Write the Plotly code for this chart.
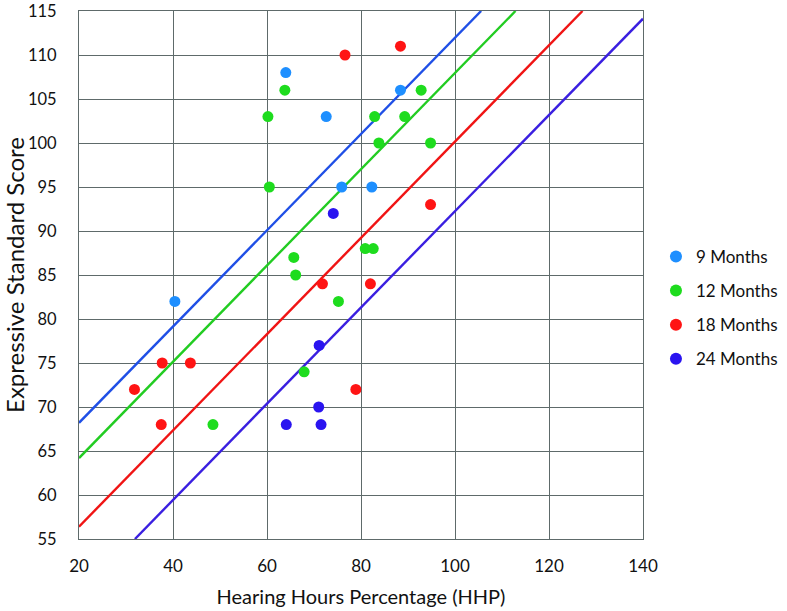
import plotly.graph_objects as go

# ---- data ----
groups = ["9 Months", "12 Months", "18 Months", "24 Months"]
point_colors = ["#1E8FFF", "#1EDC1E", "#FF1414", "#2A14F0"]
line_colors = ["#1F4FE6", "#22CC22", "#F01414", "#3A1FE0"]

hhp_9 = [64.0, 72.6, 75.9, 82.3, 88.4, 40.4]
ess_9 = [108, 103, 95, 95, 106, 82]

hhp_12 = [63.8, 60.2, 82.9, 83.8, 60.5, 80.9, 82.6, 65.7, 66.1, 92.8, 89.3, 94.8, 75.2, 67.9, 48.5]
ess_12 = [106, 103, 103, 100, 95, 88, 88, 87, 85, 106, 103, 100, 82, 74, 68]

hhp_18 = [76.6, 88.4, 94.8, 71.8, 82.0, 37.7, 43.7, 31.8, 78.9, 37.5]
ess_18 = [110, 111, 93, 84, 84, 75, 75, 72, 72, 68]

hhp_24 = [74.1, 71.1, 71.0, 64.1, 71.5]
ess_24 = [92, 77, 70, 68, 68]

# fitted regression lines (common slope, group intercepts)
fit_slope = 0.547
fit_intercepts = [57.26, 53.26, 45.46, 37.55]

x_ticks = [20, 40, 60, 80, 100, 120, 140]
y_ticks = [55, 60, 65, 70, 75, 80, 85, 90, 95, 100, 105, 110, 115]

x_range = [20, 140]
y_range = [55, 115]

xs = [hhp_9, hhp_12, hhp_18, hhp_24]
ys = [ess_9, ess_12, ess_18, ess_24]

fig = go.Figure()

# lines (clipped to plot area)
for i, b in enumerate(fit_intercepts):
    x0 = max(x_range[0], (y_range[0] - b) / fit_slope)
    x1 = min(x_range[1], (y_range[1] - b) / fit_slope)
    fig.add_trace(go.Scatter(
        x=[x0, x1], y=[b + fit_slope * x0, b + fit_slope * x1],
        mode="lines", line=dict(color=line_colors[i], width=2.4),
        showlegend=False, hoverinfo="skip"))

for i, g in enumerate(groups):
    fig.add_trace(go.Scatter(
        x=xs[i], y=ys[i], mode="markers", name=g, legendgroup=g,
        marker=dict(color=point_colors[i], size=11, line=dict(width=0)),
        cliponaxis=False))

font_family = "Lato, 'Open Sans', sans-serif"
grid_col = "#5E6A6A"

fig.update_layout(
    width=787, height=611, autosize=False,
    margin=dict(l=79, r=144, t=11, b=72),
    paper_bgcolor="white", plot_bgcolor="white",
    font=dict(family=font_family, color="#111111", size=16),
    legend=dict(x=0.8335, xanchor="left", y=0.496, yanchor="middle",
                xref="container", yref="container",
                font=dict(size=17), itemsizing="constant",
                tracegroupgap=9, bgcolor="rgba(0,0,0,0)"),
    showlegend=True,
)
fig.update_xaxes(
    range=x_range, tickvals=x_ticks, showgrid=True, gridcolor=grid_col, gridwidth=1,
    zeroline=False, showline=True, linecolor=grid_col, linewidth=1, mirror=True,
    ticks="", tickfont=dict(size=17), ticklabelstandoff=12, ticklabeloverflow="allow",
    title=dict(text="Hearing Hours Percentage (HHP)", font=dict(size=20), standoff=14),
    automargin=False,
)
fig.update_yaxes(
    range=y_range, tickvals=y_ticks, showgrid=True, gridcolor=grid_col, gridwidth=1,
    zeroline=False, showline=True, linecolor=grid_col, linewidth=1, mirror=True,
    ticks="", tickfont=dict(size=16.5), ticklabelstandoff=18, ticklabeloverflow="allow",
    title=dict(text="Expressive Standard Score", font=dict(size=24), standoff=6),
    automargin=False,
)

fig.write_html("out.html",
               config={"responsive": False, "displayModeBar": False},
               post_script="document.body.style.margin='0';document.body.style.padding='0';")
